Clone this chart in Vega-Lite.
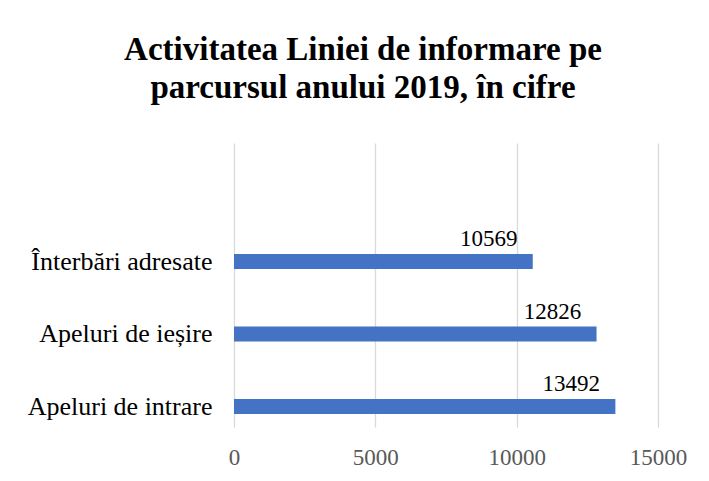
{
  "$schema": "https://vega.github.io/schema/vega-lite/v6.json",
  "width": 424,
  "height": 284,
  "autosize": "none",
  "padding": {"left": 234, "top": 143, "right": 51, "bottom": 54},
  "background": "white",
  "config": {"view": {"stroke": null}, "font": "Liberation Serif"},
  "title": {
    "text": ["Activitatea Liniei de informare pe", "parcursul anului 2019, în cifre"],
    "font": "Liberation Serif",
    "fontSize": 33,
    "fontWeight": "bold",
    "color": "#000000",
    "lineHeight": 38,
    "anchor": "middle",
    "dx": -83,
    "offset": 38
  },
  "data": {
    "values": [
      {"categorie": "Înterbări adresate", "valoare": 10569},
      {"categorie": "Apeluri de ieșire", "valoare": 12826},
      {"categorie": "Apeluri de intrare", "valoare": 13492}
    ]
  },
  "encoding": {
    "y": {
      "field": "categorie",
      "type": "nominal",
      "sort": ["Înterbări adresate", "Apeluri de ieșire", "Apeluri de intrare"],
      "scale": {"type": "point", "padding": 0.9586, "align": 0.8525},
      "axis": {
        "title": null,
        "domain": false,
        "ticks": false,
        "grid": false,
        "labelFont": "Liberation Serif",
        "labelFontSize": 26,
        "labelColor": "#000000",
        "labelPadding": 22,
        "labelLimit": 400
      }
    },
    "x": {
      "field": "valoare",
      "type": "quantitative",
      "scale": {"domain": [0, 15000], "nice": false},
      "axis": {
        "title": null,
        "values": [0, 5000, 10000, 15000],
        "format": "d",
        "domain": false,
        "ticks": false,
        "grid": true,
        "gridColor": "#d9d9d9",
        "gridWidth": 1.3,
        "labelFont": "Liberation Serif",
        "labelFontSize": 23,
        "labelColor": "#595959",
        "labelPadding": 19,
        "labelFlush": false
      }
    }
  },
  "layer": [
    {"mark": {"type": "bar", "height": 15, "color": "#4472c4"}},
    {
      "mark": {"type": "text", "align": "center", "baseline": "alphabetic", "dx": -44, "dy": -15, "fontSize": 23, "font": "Liberation Serif", "color": "#000000"},
      "encoding": {"text": {"field": "valoare", "type": "quantitative", "format": "d"}}
    }
  ]
}
